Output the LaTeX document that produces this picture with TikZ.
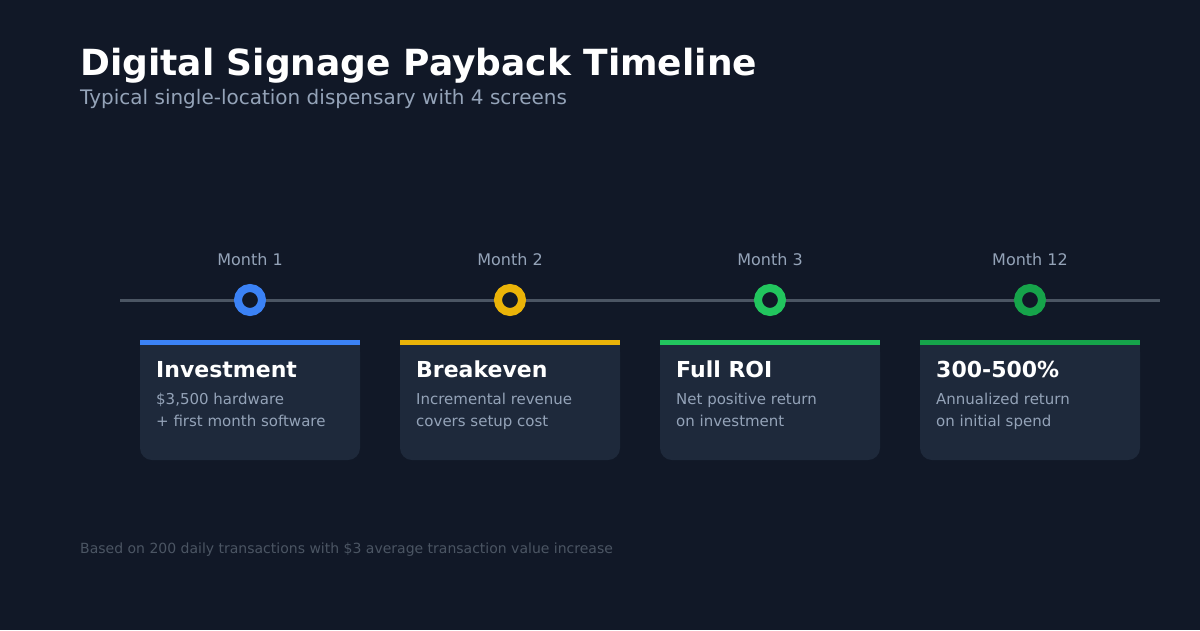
\documentclass[tikz,border=0pt]{standalone}
\usepackage{fontspec}
\setmainfont{DejaVu Sans}
\usetikzlibrary{positioning}

\definecolor{bgdark}{HTML}{111827}
\definecolor{cardbg}{HTML}{1E293B}
\definecolor{lineg}{HTML}{4B5563}
\definecolor{mutedtxt}{HTML}{94A3B8}
\definecolor{foottxt}{HTML}{4B5563}
\definecolor{accblue}{HTML}{3B82F6}
\definecolor{accyellow}{HTML}{EAB308}
\definecolor{accgreen}{HTML}{22C55E}
\definecolor{accdkgreen}{HTML}{16A34A}

\tikzset{
  txt/.style={inner sep=0pt, anchor=base west},
  monthlbl/.style={inner sep=0pt, anchor=base, text=mutedtxt, font=\fontsize{16}{19}\selectfont},
  dot/.style={circle, inner sep=0pt, minimum size=24pt, line width=8pt, fill=bgdark},
  timeline/.style={draw=lineg, line width=3pt}
}

\begin{document}
\begin{tikzpicture}[x=1pt, y=-1pt]
            \fill[bgdark] (0,0) rectangle (1200,630);
            \useasboundingbox (0,0) rectangle (1200,630);

            \node[txt, text=white, font=\fontsize{36}{42}\selectfont\bfseries] (title) at (80,75) {Digital Signage Payback Timeline};
            \node[txt, text=mutedtxt, font=\fontsize{20}{24}\selectfont] (subtitle) at (80,104) {Typical single-location dispensary with 4 screens};

            \coordinate (tlstart) at (120,300);
            \coordinate (tlend) at (1160,300);
            \draw[timeline] (tlstart) -- (tlend);

            \foreach \i/\cx/\col/\mon/\head/\la/\lb in {
                1/250/accblue/{Month 1}/{Investment}/{\$3,500 hardware}/{+ first month software},
                2/510/accyellow/{Month 2}/{Breakeven}/{Incremental revenue}/{covers setup cost},
                3/770/accgreen/{Month 3}/{Full ROI}/{Net positive return}/{on investment},
                4/1030/accdkgreen/{Month 12}/{300-500\%}/{Annualized return}/{on initial spend}} {
                \node[monthlbl] (month\i) at (\cx,265) {\mon};
                \node[dot, draw=\col] (dot\i) at (\cx,300) {};
                \fill[cardbg, rounded corners=12pt] (\cx-110,340) rectangle (\cx+110,460);
                \fill[cardbg] (\cx-110,340) rectangle (\cx+110,370);
                \fill[\col] (\cx-110,340) rectangle (\cx+110,345);
                \node[txt, text=white, font=\fontsize{22}{26}\selectfont\bfseries] (head\i) at (\cx-94,377) {\head};
                \node[txt, text=mutedtxt, font=\fontsize{15}{18}\selectfont] (linea\i) at (\cx-94,404) {\la};
                \node[txt, text=mutedtxt, font=\fontsize{15}{18}\selectfont] (lineb\i) at (\cx-94,426) {\lb};
            }

            \node[txt, text=foottxt, font=\fontsize{14}{17}\selectfont] (footer) at (80,553) {Based on 200 daily transactions with \$3 average transaction value increase};
        \end{tikzpicture}
\end{document}
